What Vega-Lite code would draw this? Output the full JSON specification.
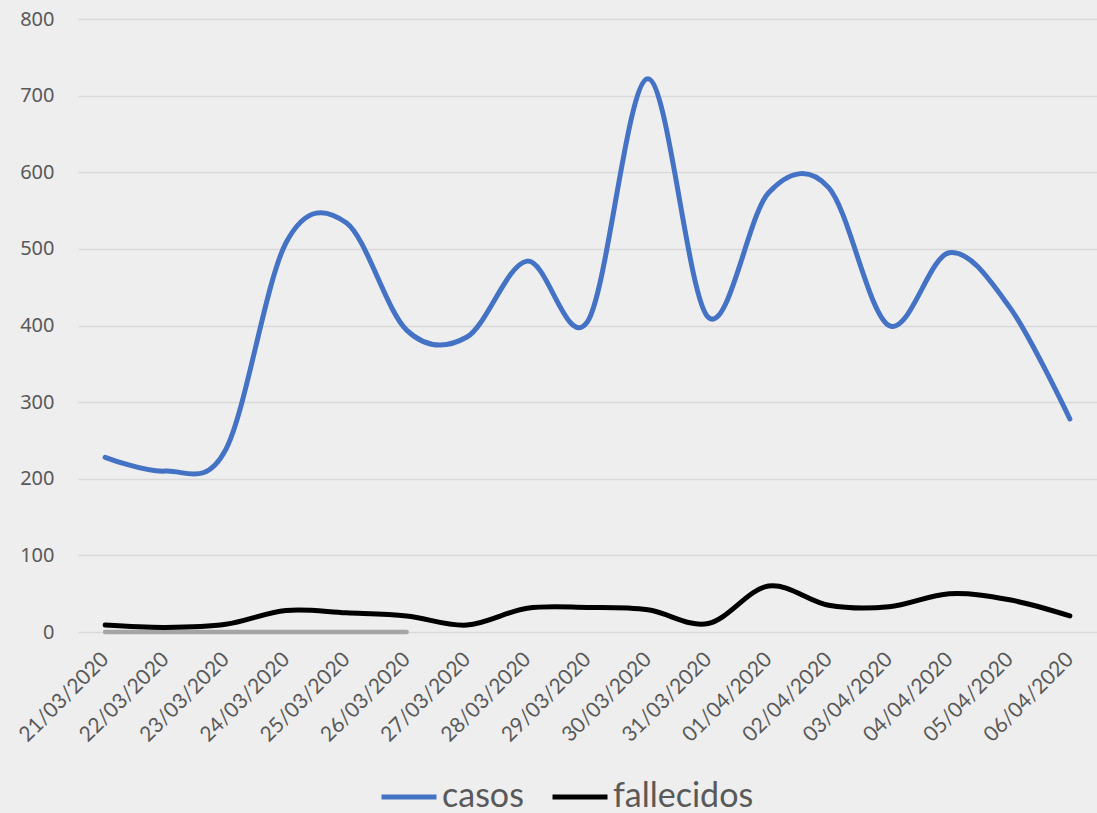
{
  "$schema": "https://vega.github.io/schema/vega-lite/v6.json",
  "autosize": {"type": "none"},
  "padding": {"left": 78, "top": 19, "right": 0, "bottom": 181},
  "width": 1019,
  "height": 613,
  "background": "#eeeeee",
  "config": {
    "view": {"stroke": null},
    "axis": {"labelColor": "#595959", "gridColor": "#d9d9d9", "gridWidth": 1.3, "domain": false, "ticks": false}
  },
  "datasets": {
    "principal": [
      {"fecha": "21/03/2020", "serie": "casos", "valor": 228},
      {"fecha": "22/03/2020", "serie": "casos", "valor": 210},
      {"fecha": "23/03/2020", "serie": "casos", "valor": 238},
      {"fecha": "24/03/2020", "serie": "casos", "valor": 508},
      {"fecha": "25/03/2020", "serie": "casos", "valor": 534},
      {"fecha": "26/03/2020", "serie": "casos", "valor": 394},
      {"fecha": "27/03/2020", "serie": "casos", "valor": 385},
      {"fecha": "28/03/2020", "serie": "casos", "valor": 484},
      {"fecha": "29/03/2020", "serie": "casos", "valor": 405},
      {"fecha": "30/03/2020", "serie": "casos", "valor": 722},
      {"fecha": "31/03/2020", "serie": "casos", "valor": 411},
      {"fecha": "01/04/2020", "serie": "casos", "valor": 573},
      {"fecha": "02/04/2020", "serie": "casos", "valor": 580},
      {"fecha": "03/04/2020", "serie": "casos", "valor": 400},
      {"fecha": "04/04/2020", "serie": "casos", "valor": 495},
      {"fecha": "05/04/2020", "serie": "casos", "valor": 424},
      {"fecha": "06/04/2020", "serie": "casos", "valor": 278},
      {"fecha": "21/03/2020", "serie": "fallecidos", "valor": 9},
      {"fecha": "22/03/2020", "serie": "fallecidos", "valor": 6},
      {"fecha": "23/03/2020", "serie": "fallecidos", "valor": 10},
      {"fecha": "24/03/2020", "serie": "fallecidos", "valor": 28},
      {"fecha": "25/03/2020", "serie": "fallecidos", "valor": 25},
      {"fecha": "26/03/2020", "serie": "fallecidos", "valor": 21},
      {"fecha": "27/03/2020", "serie": "fallecidos", "valor": 9},
      {"fecha": "28/03/2020", "serie": "fallecidos", "valor": 31},
      {"fecha": "29/03/2020", "serie": "fallecidos", "valor": 32},
      {"fecha": "30/03/2020", "serie": "fallecidos", "valor": 29},
      {"fecha": "31/03/2020", "serie": "fallecidos", "valor": 11},
      {"fecha": "01/04/2020", "serie": "fallecidos", "valor": 60},
      {"fecha": "02/04/2020", "serie": "fallecidos", "valor": 35},
      {"fecha": "03/04/2020", "serie": "fallecidos", "valor": 33},
      {"fecha": "04/04/2020", "serie": "fallecidos", "valor": 50},
      {"fecha": "05/04/2020", "serie": "fallecidos", "valor": 42},
      {"fecha": "06/04/2020", "serie": "fallecidos", "valor": 21}
    ],
    "base": [
      {"fecha": "21/03/2020", "valor": 0},
      {"fecha": "22/03/2020", "valor": 0},
      {"fecha": "23/03/2020", "valor": 0},
      {"fecha": "24/03/2020", "valor": 0},
      {"fecha": "25/03/2020", "valor": 0},
      {"fecha": "26/03/2020", "valor": 0}
    ]
  },
  "encoding": {
    "x": {
      "field": "fecha", "type": "ordinal", "sort": null,
      "scale": {"type": "point", "padding": 0.45,
        "domain": ["21/03/2020","22/03/2020","23/03/2020","24/03/2020","25/03/2020","26/03/2020","27/03/2020","28/03/2020","29/03/2020","30/03/2020","31/03/2020","01/04/2020","02/04/2020","03/04/2020","04/04/2020","05/04/2020","06/04/2020"]},
      "axis": {"title": null, "labelAngle": -45, "labelAlign": "right", "labelBaseline": "middle", "labelPadding": 24, "labelFont": "Lato", "labelFontSize": 21, "grid": false}
    },
    "y": {
      "field": "valor", "type": "quantitative",
      "scale": {"domain": [0, 800], "nice": false},
      "axis": {"title": null, "values": [0,100,200,300,400,500,600,700,800], "labelFont": "Noto Sans", "labelFontSize": 20, "labelPadding": 24, "grid": true}
    }
  },
  "layer": [
    {
      "data": {"name": "base"},
      "mark": {"type": "line", "color": "#a5a5a5", "strokeWidth": 4.5, "strokeCap": "round", "interpolate": "cardinal", "tension": 0}
    },
    {
      "data": {"name": "principal"},
      "mark": {"type": "line", "strokeWidth": 5, "strokeCap": "round", "interpolate": "cardinal", "tension": 0},
      "encoding": {
        "color": {
          "field": "serie", "type": "nominal",
          "scale": {"domain": ["casos", "fallecidos"], "range": ["#4472c4", "#000000"]},
          "legend": {
            "title": null, "orient": "none", "direction": "horizontal",
            "legendX": 301, "legendY": 748,
            "symbolType": "stroke", "symbolSize": 3025, "symbolStrokeWidth": 5,
            "labelFont": "Lato", "labelFontSize": 34, "labelColor": "#595959",
            "labelOffset": 3, "columnPadding": 18
          }
        }
      }
    }
  ]
}
